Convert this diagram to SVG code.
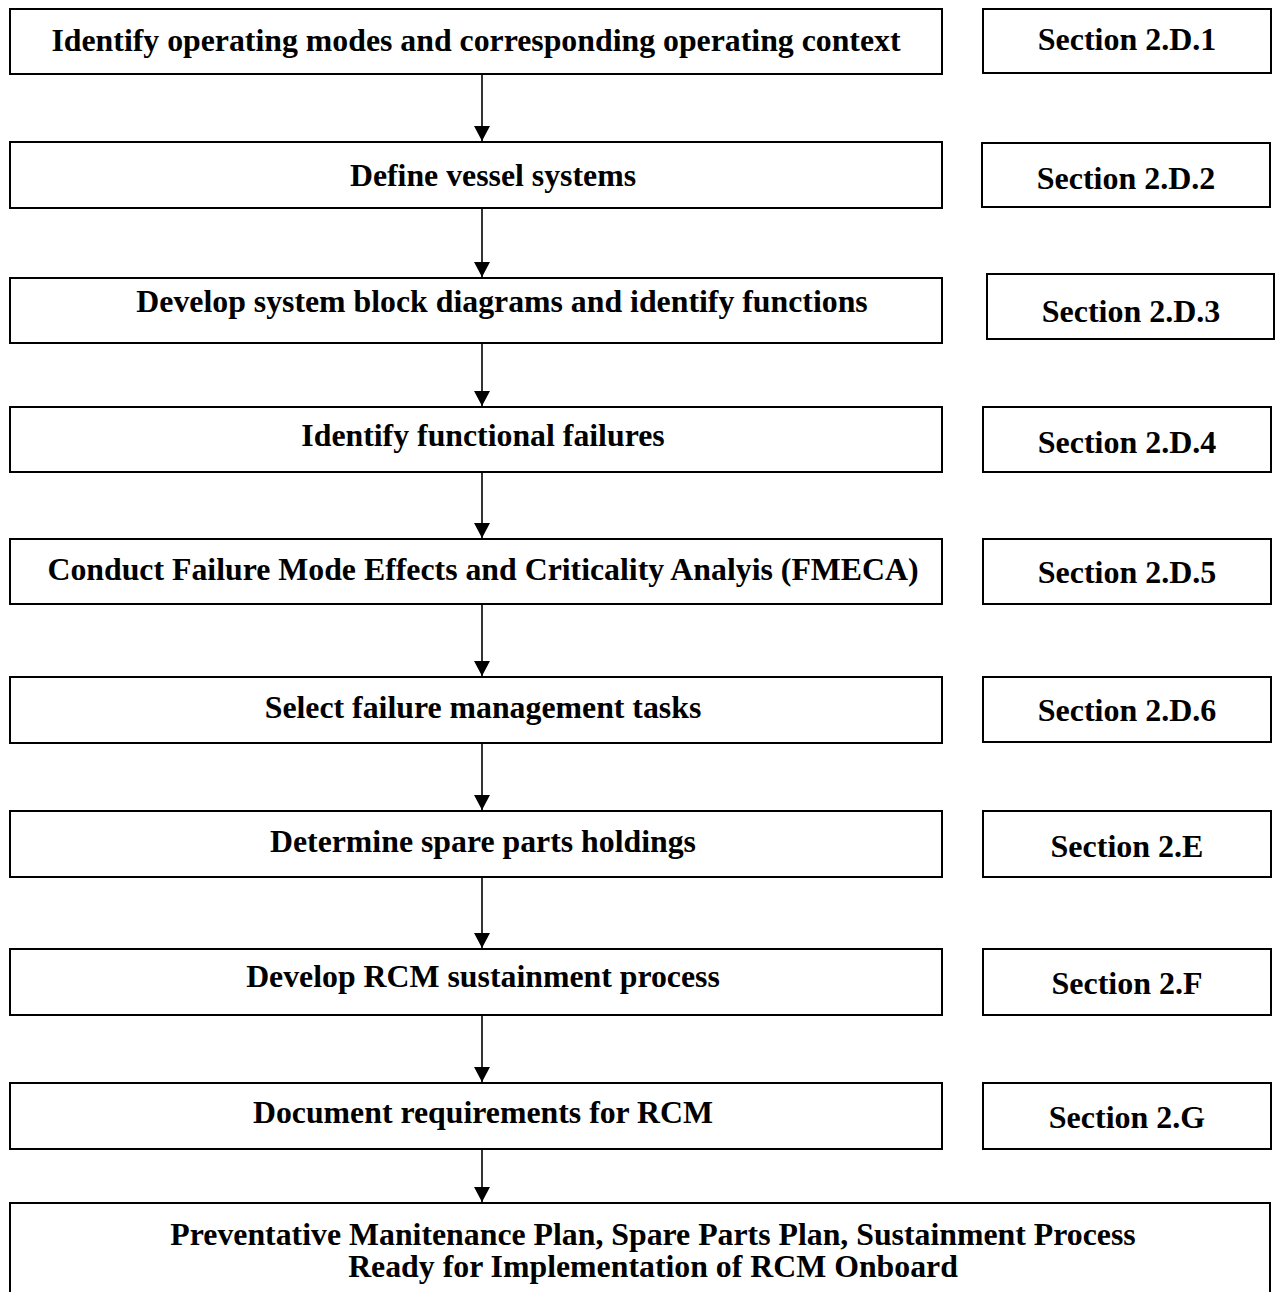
<svg xmlns="http://www.w3.org/2000/svg" width="1276" height="1292" viewBox="0 0 1276 1292">
  <style>
    rect.box { fill: #ffffff; stroke: #000000; stroke-width: 2; }
    text { font-family: "Liberation Serif", "Times New Roman", serif; font-weight: bold; fill: #000000; text-anchor: middle; }
    text.step { font-size: 31.8px; }
    text.sec { font-size: 32px; }
    line.flow { stroke: #000000; stroke-width: 1.6; marker-end: url(#arrow); }
  </style>
  <defs>
    <!-- filled triangular arrowhead, tip on the line end -->
    <marker id="arrow" markerUnits="userSpaceOnUse" markerWidth="15" markerHeight="16" viewBox="0 0 15 16" refX="15" refY="8" orient="auto">
      <path d="M0,0 L15,8 L0,16 Z" fill="#000000"/>
    </marker>
  </defs>
  <rect width="1276" height="1292" fill="#ffffff"/>

  <!-- connectors between the process steps -->
  <g id="connectors">
    <line class="flow" x1="482" y1="74" x2="482" y2="141"/>
    <line class="flow" x1="482" y1="208" x2="482" y2="277"/>
    <line class="flow" x1="482" y1="343" x2="482" y2="406"/>
    <line class="flow" x1="482" y1="472" x2="482" y2="538"/>
    <line class="flow" x1="482" y1="604" x2="482" y2="676"/>
    <line class="flow" x1="482" y1="743" x2="482" y2="810"/>
    <line class="flow" x1="482" y1="877" x2="482" y2="948"/>
    <line class="flow" x1="482" y1="1015" x2="482" y2="1082"/>
    <line class="flow" x1="482" y1="1149" x2="482" y2="1202"/>
  </g>

  <!-- process steps -->
  <g id="step1"><rect class="box" x="10" y="9" width="932" height="65"/><text class="step" x="476" y="51">Identify operating modes and corresponding operating context</text></g>
  <g id="step2"><rect class="box" x="10" y="142" width="932" height="66"/><text class="step" x="493" y="186">Define vessel systems</text></g>
  <g id="step3"><rect class="box" x="10" y="278" width="932" height="65"/><text class="step" x="502" y="312">Develop system block diagrams and identify functions</text></g>
  <g id="step4"><rect class="box" x="10" y="407" width="932" height="65"/><text class="step" x="483" y="446">Identify functional failures</text></g>
  <g id="step5"><rect class="box" x="10" y="539" width="932" height="65"/><text class="step" x="483" y="580">Conduct Failure Mode Effects and Criticality Analyis (FMECA)</text></g>
  <g id="step6"><rect class="box" x="10" y="677" width="932" height="66"/><text class="step" x="483" y="718">Select failure management tasks</text></g>
  <g id="step7"><rect class="box" x="10" y="811" width="932" height="66"/><text class="step" x="483" y="852">Determine spare parts holdings</text></g>
  <g id="step8"><rect class="box" x="10" y="949" width="932" height="66"/><text class="step" x="483" y="987">Develop RCM sustainment process</text></g>
  <g id="step9"><rect class="box" x="10" y="1083" width="932" height="66"/><text class="step" x="483" y="1123">Document requirements for RCM</text></g>
  <g id="outcome"><rect class="box" x="10" y="1203" width="1260" height="100"/>
    <text class="step" x="653" y="1245">Preventative Manitenance Plan, Spare Parts Plan, Sustainment Process</text>
    <text class="step" x="653" y="1277">Ready for Implementation of RCM Onboard</text>
  </g>

  <!-- section references -->
  <g id="sec1"><rect class="box" x="983" y="9" width="288" height="64"/><text class="sec" x="1127" y="50">Section 2.D.1</text></g>
  <g id="sec2"><rect class="box" x="982" y="143" width="288" height="64"/><text class="sec" x="1126" y="189">Section 2.D.2</text></g>
  <g id="sec3"><rect class="box" x="987" y="274" width="287" height="65"/><text class="sec" x="1131" y="322">Section 2.D.3</text></g>
  <g id="sec4"><rect class="box" x="983" y="407" width="288" height="65"/><text class="sec" x="1127" y="453">Section 2.D.4</text></g>
  <g id="sec5"><rect class="box" x="983" y="539" width="288" height="65"/><text class="sec" x="1127" y="583">Section 2.D.5</text></g>
  <g id="sec6"><rect class="box" x="983" y="677" width="288" height="65"/><text class="sec" x="1127" y="721">Section 2.D.6</text></g>
  <g id="sec7"><rect class="box" x="983" y="811" width="288" height="66"/><text class="sec" x="1127" y="857">Section 2.E</text></g>
  <g id="sec8"><rect class="box" x="983" y="949" width="288" height="66"/><text class="sec" x="1127" y="994">Section 2.F</text></g>
  <g id="sec9"><rect class="box" x="983" y="1083" width="288" height="66"/><text class="sec" x="1127" y="1128">Section 2.G</text></g>
</svg>
